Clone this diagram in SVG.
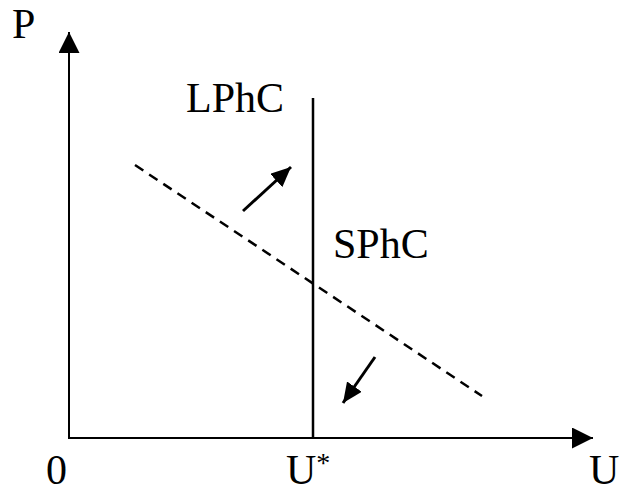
<svg xmlns="http://www.w3.org/2000/svg" width="621" height="493" viewBox="0 0 621 493">
<style>
text{font-family:"Liberation Serif","Times New Roman",serif;font-size:42px;fill:#000}
.sup{font-size:28px}
.ax{stroke:#000;stroke-width:2;fill:none}
.ln{stroke:#000;stroke-width:2.5;fill:none}
.dash{stroke:#000;stroke-width:2.5;fill:none;stroke-dasharray:10 7}
.sa{stroke:#000;stroke-width:3;fill:none}
</style>
<defs>
<marker id="big" markerUnits="userSpaceOnUse" markerWidth="21" markerHeight="21" refX="21" refY="10.5" orient="auto"><path d="M0,0 L21,10.5 L0,21 z" fill="#000"/></marker>
<marker id="small" markerUnits="userSpaceOnUse" markerWidth="20" markerHeight="18" refX="20" refY="9" orient="auto"><path d="M0,0 L20,9 L0,18 z" fill="#000"/></marker>
</defs>
<g id="axes">
<line class="ax" x1="69" y1="438" x2="69" y2="32" marker-end="url(#big)"/>
<line class="ax" x1="68" y1="438" x2="593" y2="438" marker-end="url(#big)"/>
</g>
<g id="connectors">
<line id="lphc-line" class="ln" x1="313" y1="98" x2="313" y2="438"/>
<line id="sphc-line" class="dash" x1="135" y1="165" x2="482" y2="396"/>
<line class="sa" x1="243" y1="211" x2="291" y2="167" marker-end="url(#small)"/>
<line class="sa" x1="375" y1="357" x2="343" y2="403" marker-end="url(#small)"/>
</g>
<g id="labels">
<text x="12" y="38">P</text>
<text x="186" y="112">LPhC</text>
<text x="333" y="258">SPhC</text>
<text x="46" y="484">0</text>
<text x="286" y="484">U<tspan class="sup" dy="-12">*</tspan></text>
<text x="589" y="484">U</text>
</g>
</svg>
